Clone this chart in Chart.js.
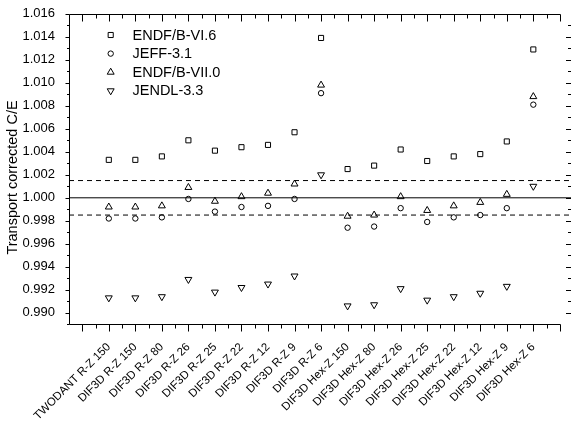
<!DOCTYPE html>
<html>
<head>
<meta charset="utf-8">
<script src="https://cdn.jsdelivr.net/npm/chart.js@4/dist/chart.umd.min.js"></script>
<style>
  html, body { margin: 0; padding: 0; background: #fff; }
  #wrap { width: 576px; height: 425px; }
</style>
</head>
<body>
<div id="wrap"><canvas id="chart"></canvas></div>
<script>
const categories = [
  'TWODANT R-Z 150', 'DIF3D R-Z 150', 'DIF3D R-Z 80', 'DIF3D R-Z 26', 'DIF3D R-Z 25',
  'DIF3D R-Z 22', 'DIF3D R-Z 12', 'DIF3D R-Z 9', 'DIF3D R-Z 6',
  'DIF3D Hex-Z 150', 'DIF3D Hex-Z 80', 'DIF3D Hex-Z 26', 'DIF3D Hex-Z 25',
  'DIF3D Hex-Z 22', 'DIF3D Hex-Z 12', 'DIF3D Hex-Z 9', 'DIF3D Hex-Z 6'
];
const endfB66 = [1.0033, 1.0033, 1.0036, 1.0050, 1.0041, 1.0044, 1.0046, 1.0057, 1.0139,
                 1.0025, 1.0028, 1.0042, 1.0032, 1.0036, 1.0038, 1.0049, 1.0129];
const jeff31 = [0.9982, 0.9982, 0.9983, 0.9999, 0.9988, 0.9992, 0.9993, 0.9999, 1.0091,
                0.9974, 0.9975, 0.9991, 0.9979, 0.9983, 0.9985, 0.9991, 1.0081];
const endfB70 = [0.9992, 0.9992, 0.9993, 1.0009, 0.9997, 1.0001, 1.0004, 1.0012, 1.0098,
                 0.9984, 0.9985, 1.0001, 0.9989, 0.9993, 0.9996, 1.0003, 1.0088];
const jendl33 = [0.9913, 0.9913, 0.9914, 0.9929, 0.9918, 0.9922, 0.9925, 0.9932, 1.0020,
                 0.9906, 0.9907, 0.9921, 0.9911, 0.9914, 0.9917, 0.9923, 1.0010];
const yTicks = [0.990, 0.992, 0.994, 0.996, 0.998, 1.000, 1.002, 1.004, 1.006, 1.008,
                1.010, 1.012, 1.014, 1.016];
const unity = 1.000;
const bandLines = [1.0015, 0.9985];

const xMin = -1.5, xMax = 17.42, yMin = 0.989, yMax = 1.016;
const FONT = '"Liberation Sans", Arial, sans-serif';

function series(label, values, style, radius, rotation) {
  return {
    label: label,
    data: values.map((v, i) => ({ x: i, y: v })),
    showLine: false,
    pointStyle: style,
    pointRadius: radius,
    pointHoverRadius: radius,
    pointRotation: rotation || 0,
    pointBorderColor: '#000',
    pointBackgroundColor: 'rgba(0,0,0,0)',
    pointBorderWidth: 1
  };
}

function hLine(value, dash) {
  return {
    type: 'line',
    label: '',
    data: [{ x: xMin, y: value }, { x: xMax, y: value }],
    borderColor: '#000',
    borderWidth: 1,
    borderDash: dash,
    pointRadius: 0,
    fill: false,
    legendHidden: true
  };
}

// frame, minor ticks, legend and y title
const decorPlugin = {
  id: 'decor',
  afterDraw(chart) {
    const { ctx, chartArea: a, scales: { x, y } } = chart;
    const L = Math.round(a.left) + 0.5, T = Math.round(a.top) + 0.5;
    const B = Math.round(a.bottom) + 0.5, R = a.right;
    const xEnd = Math.round(x.getPixelForValue(17)) + 0.5;
    ctx.save();
    ctx.strokeStyle = '#000';
    ctx.lineWidth = 1;
    ctx.beginPath();
    ctx.moveTo(L, T); ctx.lineTo(xEnd, T);
    ctx.moveTo(L, B); ctx.lineTo(xEnd, B);
    ctx.moveTo(L, T); ctx.lineTo(L, B);
    for (let k = -2; k <= 34; k++) {
      const v = k / 2;
      const px = Math.round(x.getPixelForValue(v)) + 0.5;
      const len = k % 2 === 0 ? 7 : 4;
      ctx.moveTo(px, B); ctx.lineTo(px, B + len);
      ctx.moveTo(px, T); ctx.lineTo(px, T + len);
    }
    for (let i = 0; i <= 27; i++) {
      const v = yMin + i * 0.001;
      const py = Math.round(y.getPixelForValue(v)) + 0.5;
      const major = i % 2 === 1;
      ctx.moveTo(L, py); ctx.lineTo(L - (major ? 4 : 2.5), py);
      if (i >= 1 && i <= 26) {
        ctx.moveTo(R, py); ctx.lineTo(R - (major ? 5 : 3), py);
      }
    }
    ctx.stroke();

    // legend
    ctx.font = '14.5px ' + FONT;
    ctx.fillStyle = '#000';
    ctx.textAlign = 'left';
    ctx.textBaseline = 'middle';
    let row = 0;
    chart.data.datasets.forEach((ds) => {
      if (ds.legendHidden) return;
      const ly = 35 + row * 18.6;
      ctx.save();
      ctx.strokeStyle = '#000';
      ctx.fillStyle = 'rgba(0,0,0,0)';
      ctx.lineWidth = 1;
      Chart.helpers.drawPoint(ctx, {
        pointStyle: ds.pointStyle, rotation: ds.pointRotation,
        radius: ds.pointRadius, borderWidth: 1
      }, 110.7, ly);
      ctx.restore();
      ctx.fillText(ds.label, 132.5, ly + 0.5);
      row++;
    });

    // y axis title
    ctx.save();
    ctx.translate(13, 177.5);
    ctx.rotate(-Math.PI / 2);
    ctx.textAlign = 'center';
    ctx.textBaseline = 'middle';
    ctx.fillText('Transport corrected C/E', 0, 0);
    ctx.restore();
    ctx.restore();
  }
};

new Chart(document.getElementById('chart'), {
  type: 'scatter',
  data: {
    datasets: [
      series('ENDF/B-VI.6', endfB66, 'rect', 3.6),
      series('JEFF-3.1', jeff31, 'circle', 2.7),
      series('ENDF/B-VII.0', endfB70, 'triangle', 4),
      series('JENDL-3.3', jendl33, 'triangle', 4, 180),
      hLine(unity, []),
      hLine(bandLines[0], [5, 4]),
      hLine(bandLines[1], [5, 4])
    ]
  },
  options: {
    responsive: true,
    maintainAspectRatio: false,
    animation: false,
    layout: { padding: { top: 11, right: 0, left: 0, bottom: 0 } },
    plugins: { legend: { display: false }, tooltip: { enabled: false } },
    scales: {
      x: {
        type: 'linear',
        min: xMin,
        max: xMax,
        grid: { display: false },
        border: { display: false },
        afterBuildTicks: (scale) => { scale.ticks = categories.map((_, i) => ({ value: i })); },
        afterFit: (scale) => { scale.height = 100.7; },
        ticks: {
          autoSkip: false,
          minRotation: 45,
          maxRotation: 45,
          padding: 8,
          color: '#000',
          font: { family: FONT, size: 11.5 },
          callback: (v) => categories[v]
        }
      },
      y: {
        min: yMin,
        max: yMax,
        grid: { display: false },
        border: { display: false },
        afterBuildTicks: (scale) => { scale.ticks = yTicks.map((v) => ({ value: v })); },
        afterFit: (scale) => { scale.width = 69; },
        ticks: {
          padding: 6,
          color: '#000',
          font: { family: FONT, size: 13 },
          callback: (v) => v.toFixed(3)
        }
      }
    }
  },
  plugins: [decorPlugin]
});
</script>
</body>
</html>
